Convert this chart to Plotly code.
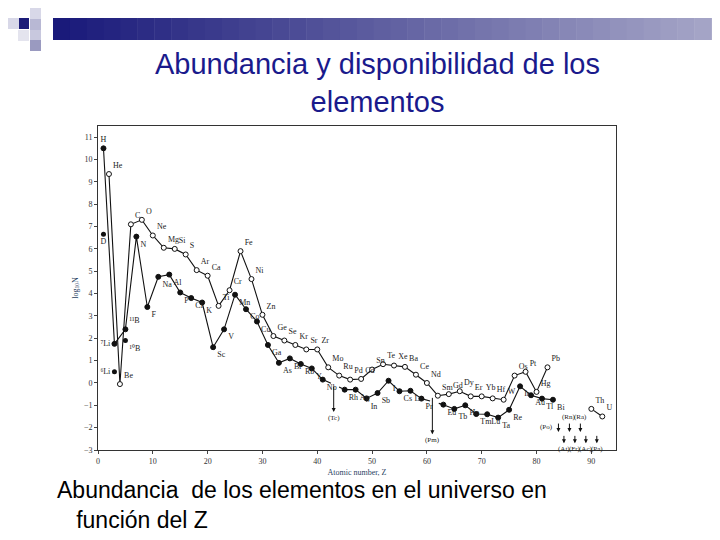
import plotly.graph_objects as go

even_z = [2,4,6,8,10,12,14,16,18,20,22,24,26,28,30,32,34,36,38,40,42,44,46,48,50,52,54,56,58,60,62,64,66,68,70,72,74,76,78,80,82]
even_v = [9.35,-0.05,7.1,7.3,6.6,6.05,6.0,5.75,5.05,4.8,3.45,4.15,5.9,4.65,3.05,2.1,1.9,1.7,1.5,1.5,0.7,0.33,0.15,0.18,0.6,0.84,0.78,0.72,0.37,0.0,-0.57,-0.5,-0.37,-0.6,-0.6,-0.69,-0.75,0.33,0.5,-0.4,0.7]
even_lab = ["He","Be","C","O","Ne","Mg","Si","S","Ar","Ca","Ti","Cr","Fe","Ni","Zn","Ge","Se","Kr","Sr","Zr","Mo","Ru","Pd","Cd","Sn","Te","Xe","Ba","Ce","Nd","Sm","Gd","Dy","Er","Yb","Hf","W","Os","Pt","Hg","Pb"]

odd1_z = [1,3,5,7,9,11,13,15,17,19,21,23,25,27,29,31,33,35,37,39,41]
odd1_v = [10.5,1.75,2.4,6.55,3.4,4.75,4.85,4.05,3.8,3.6,1.6,2.4,3.95,3.3,2.75,1.7,0.9,1.1,0.85,0.65,0.15]
odd1_lab = ["H","⁷Li","¹¹B","N","F","Na","Al","P","Cl","K","Sc","V","Mn","Co","Cu","Ga","As","Br","Rb","Y","Nb"]
odd2_z = [45,47,49,51,53,55,57,59]
odd2_v = [-0.3,-0.3,-0.69,-0.45,0.1,-0.37,-0.35,-0.7]
odd2_lab = ["Rh","Ag","In","Sb","I","Cs","La","Pr"]
odd3_z = [63,65,67,69,71,73,75,77,79,81,83]
odd3_v = [-0.97,-1.16,-1.0,-1.39,-1.4,-1.55,-1.2,-0.15,-0.55,-0.7,-0.75]
odd3_lab = ["Eu","Tb","Ho","Tm","Lu","Ta","Re","Ir","Au","Tl","Bi"]
act_z = [90,92]
act_v = [-1.16,-1.5]
act_lab = ["Th","U"]
iso_z = [1,3,5]
iso_v = [6.65,0.5,1.9]
iso_lab = ["D","⁶Li","¹⁰B"]
missing_z = [43,61,84,85,86,87,88,89,91]
missing_lab = ["(Tc)","(Pm)","(Po)","(At)","(Rn)","(Fr)","(Ra)","(Ac)","(Pa)"]
missing_top = [-0.1,-0.6,-1.75,-2.3,-1.75,-2.3,-1.75,-2.3,-2.3]
missing_bot = [-1.3,-2.3,-2.2,-2.7,-2.2,-2.7,-2.2,-2.7,-2.7]
missing_side = ["below","below","left","below","above","below","above","below","below"]

L, R, T, B = 90, 608, 118, 442
def px(x): return (x - L) / (R - L)
def py(y): return (B - y) / (B - T)

fig = go.Figure()
tf = dict(family="Liberation Serif", size=8, color="#222")
def add(z, v, lab, open_, dash="solid", pos="top right"):
    fig.add_trace(go.Scatter(x=z, y=v, mode="lines+markers+text", text=lab, textposition=pos,
        textfont=tf, line=dict(color="#111", width=1.1, dash=dash),
        marker=dict(size=5, color="white" if open_ else "#111", line=dict(color="#111", width=1)),
        showlegend=False, cliponaxis=False))
add(even_z, even_v, even_lab, True)
add(odd1_z, odd1_v, odd1_lab, False, pos=["top center","middle left","top right"] + ["bottom right"] * (len(odd1_z) - 3))
add(odd2_z, odd2_v, odd2_lab, False, pos="bottom right")
add(odd3_z, odd3_v, odd3_lab, False, pos="bottom right")
add(act_z, act_v, act_lab, True)
fig.add_trace(go.Scatter(x=iso_z, y=iso_v, mode="markers+text", text=iso_lab,
    textposition=["bottom center","middle left","bottom right"],
    textfont=tf, marker=dict(size=5, color="#111"), showlegend=False, cliponaxis=False))
for a, b in [((41,0.15),(45,-0.3)), ((59,-0.7),(63,-0.97))]:
    fig.add_trace(go.Scatter(x=[a[0],b[0]], y=[a[1],b[1]], mode="lines",
        line=dict(color="#111", width=1.1, dash="dash"), showlegend=False))
mf = dict(family="Liberation Serif", size=7, color="#222")
for z, l, t, b, s in zip(missing_z, missing_lab, missing_top, missing_bot, missing_side):
    fig.add_annotation(x=z, y=b, ax=z, ay=t, xref="x", yref="y", axref="x", ayref="y",
        showarrow=True, arrowhead=2, arrowsize=0.8, arrowwidth=1, arrowcolor="#111", text="")
    if s == "below":
        fig.add_annotation(x=z, y=b, yshift=-6, text=l, showarrow=False, font=mf)
    elif s == "above":
        fig.add_annotation(x=z, y=t, yshift=5, text=l, showarrow=False, font=mf)
    else:
        fig.add_annotation(x=z, y=(t+b)/2, xshift=-3, xanchor="right", text=l, showarrow=False, font=mf)

# slide decorations
sq = [(10,10,"#1c1c78"),(22,0,"#d8d8e8"),(0,10,"#d8d8e8"),(22,11,"#b8b8d4"),(10,22,"#e4e4ee"),(22,22,"#c8c8de"),(22,32,"#9a9ac0")]
for x0, y0, c in sq:
    fig.add_shape(type="rect", xref="paper", yref="paper", x0=px(x0), x1=px(x0+11),
                  y0=py(y0+11), y1=py(y0), fillcolor=c, line_width=0, layer="above")
n = 40
for k in range(n):
    f = k / (n - 1)
    r = int(0x1a + f * (0xa8 - 0x1a)); g = int(0x1a + f * (0xa8 - 0x1a)); bl = int(0x7a + f * (0xc8 - 0x7a))
    x0 = 45 + k * (720 - 45) / n
    fig.add_shape(type="rect", xref="paper", yref="paper", x0=px(x0), x1=px(x0 + (720-45)/n + 0.5),
                  y0=py(32), y1=py(10), fillcolor=f"rgb({r},{g},{bl})", line_width=0)

fig.add_annotation(xref="paper", yref="paper", x=px(369), y=py(75), text="Abundancia y disponibilidad de los<br>elementos",
    showarrow=False, font=dict(family="Liberation Sans", size=29, color="#1a1a8c"), align="center", yanchor="middle")
fig.add_annotation(xref="paper", yref="paper", x=px(47), y=py(497), xanchor="left", yanchor="middle", align="left",
    text="Abundancia  de los elementos en el universo en<br>   función del Z", showarrow=False,
    font=dict(family="Liberation Sans", size=23, color="black"))

ax = dict(showline=True, linecolor="#333", mirror=True, ticks="outside", ticklen=3, showgrid=False, zeroline=False,
          tickfont=dict(family="Liberation Serif", size=8, color="#333"))
fig.update_xaxes(range=[0,94.5], dtick=10, title=dict(text="Atomic number, Z", font=dict(family="Liberation Serif", size=8), standoff=4), **ax)
fig.update_yaxes(range=[-3,11.5], dtick=1, title=dict(text="log<sub>10</sub>N", font=dict(family="Liberation Serif", size=8), standoff=4), **ax)
fig.update_layout(width=720, height=540, margin=dict(l=L, r=720-R, t=T, b=540-B),
                  paper_bgcolor="white", plot_bgcolor="white")
fig.write_html("out.html")
